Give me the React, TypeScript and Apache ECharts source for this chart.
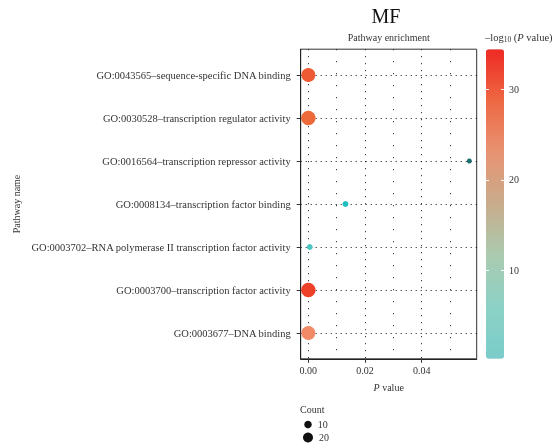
import React, { useEffect, useRef } from 'react';
import * as echarts from 'echarts';

const pathways = [
  'GO:0043565–sequence-specific DNA binding',
  'GO:0030528–transcription regulator activity',
  'GO:0016564–transcription repressor activity',
  'GO:0008134–transcription factor binding',
  'GO:0003702–RNA polymerase II transcription factor activity',
  'GO:0003700–transcription factor activity',
  'GO:0003677–DNA binding',
];
const pValues = [1e-30, 3e-29, 0.0568, 0.0131, 0.0005, 3e-33, 1e-24];
const counts = [42, 45, 3, 5, 5, 45, 42];
const rowTicks = [0, 1, 2, 3, 4, 5, 6];
const xTicks = [0, 0.02, 0.04];
const xMinorTicks = [0.01, 0.03, 0.05];
const colorbarTicks = [10, 20, 30];
const legendCounts = [10, 20];

const FONT = '"Liberation Serif", "Times New Roman", serif';
const size = (c: number) => Math.sqrt(12.5 + 4.375 * c);

export default function App() {
  const ref = useRef<HTMLDivElement>(null);
  useEffect(() => {
    if (!ref.current) return;
    const chart = echarts.init(ref.current, undefined, { renderer: 'svg' });
    const xMin = -0.0027;
    const xMax = 0.0594;
    const option: any = {
      animation: false,
      textStyle: { fontFamily: FONT },
      grid: [
        { left: 300.7, top: 49.2, width: 176, height: 309.6, show: true, borderColor: '#333', borderWidth: 1, backgroundColor: 'transparent' },
        { left: 486, top: 49.2, width: 18, height: 309.6 },
        { left: 303, top: 418, width: 10, height: 26 },
      ],
      xAxis: [
        {
          gridIndex: 0, type: 'value', min: xMin, max: xMax, position: 'bottom',
          axisLine: { show: true, onZero: false, lineStyle: { color: '#222', width: 1 } },
          axisTick: { show: true, length: 4, customValues: xTicks, lineStyle: { color: '#333' } },
          axisLabel: { customValues: xTicks, formatter: (v: number) => v.toFixed(2), color: '#333', fontSize: 10, margin: 7, fontFamily: FONT },
          splitLine: { show: true, lineStyle: { color: '#111', type: [1, 6], width: 1 } },
          name: '{i|P} value', nameLocation: 'middle', nameGap: 24,
          nameTextStyle: { color: '#333', fontSize: 10, fontFamily: FONT, rich: { i: { fontStyle: 'italic', fontSize: 10, fontFamily: FONT, color: '#333' } } },
        },
        {
          gridIndex: 0, type: 'value', min: xMin, max: xMax, position: 'top',
          axisLine: { show: false, onZero: false },
          axisTick: { show: false, customValues: xMinorTicks },
          axisLabel: { show: false, customValues: xMinorTicks },
          splitLine: { show: true, lineStyle: { color: '#111', type: [1, 11], width: 1 } },
        },
        { gridIndex: 1, type: 'value', show: false },
        { gridIndex: 2, type: 'value', show: false, min: 0, max: 1 },
      ],
      yAxis: [
        {
          gridIndex: 0, type: 'value', min: -0.6, max: 6.6, inverse: true,
          axisLine: { show: true, onZero: false, lineStyle: { color: '#222', width: 1 } },
          axisTick: { show: true, length: 4, customValues: rowTicks, lineStyle: { color: '#333' } },
          axisLabel: { customValues: rowTicks, formatter: (v: number) => pathways[Math.round(v)] ?? '', color: '#333', fontSize: 10.5, margin: 10, fontFamily: FONT },
          splitLine: { show: true, lineStyle: { color: '#111', type: [1, 4], width: 1 } },
        },
        {
          gridIndex: 1, type: 'value', min: 0.3, max: 34.4, position: 'left', z: 10,
          axisLine: { show: false, onZero: false },
          axisTick: { show: true, inside: true, length: 3, customValues: colorbarTicks, lineStyle: { color: '#fff' } },
          axisLabel: { show: false, customValues: colorbarTicks },
          splitLine: { show: false },
        },
        {
          gridIndex: 1, type: 'value', min: 0.3, max: 34.4, position: 'right', z: 10,
          axisLine: { show: false, onZero: false },
          axisTick: { show: true, inside: true, length: 3, customValues: colorbarTicks, lineStyle: { color: '#fff' } },
          axisLabel: { show: true, customValues: colorbarTicks, color: '#333', fontSize: 10, margin: 5, fontFamily: FONT },
          splitLine: { show: false },
        },
        { gridIndex: 2, type: 'category', data: legendCounts.map(String), inverse: true, show: false },
      ],
      visualMap: [
        {
          type: 'continuous', seriesIndex: 1, min: 0.3, max: 34.4,
          left: 486, top: 49.2, itemWidth: 18, itemHeight: 309.6, padding: 0,
          calculable: false, show: true, text: null, hoverLink: false,
          inRange: { color: ['#7ACDCB', '#8CD1C6', '#AACBB0', '#C8AC8C', '#E89373', '#EE6843', '#EE2A24'] },
        },
        {
          type: 'piecewise', seriesIndex: 0, dimension: 3, show: false,
          pieces: [
            { lt: 1.5, color: '#1D6E6E' },
            { gte: 1.5, lt: 2.5, color: '#22BDBD' },
            { gte: 2.5, lt: 8, color: '#4CC6C2' },
            { gte: 8, lt: 26, color: '#F28A68' },
            { gte: 26, lt: 29.5, color: '#EF6A3A' },
            { gte: 29.5, lt: 31.5, color: '#EE5A33' },
            { gte: 31.5, color: '#EE4028' },
          ],
        },
      ],
      series: [
        {
          type: 'scatter', xAxisIndex: 0, yAxisIndex: 0,
          data: pathways.map((_, i) => [pValues[i], i, counts[i], -Math.log10(pValues[i])]),
          symbolSize: (d: number[]) => size(d[2]),
          itemStyle: { opacity: 1 },
          z: 5,
        },
        { type: 'scatter', xAxisIndex: 2, yAxisIndex: 1, data: [] },
        {
          type: 'scatter', xAxisIndex: 3, yAxisIndex: 3,
          data: legendCounts.map((c, i) => [0.5, i, c]),
          symbolSize: (d: number[]) => size(d[2]),
          itemStyle: { color: '#111', opacity: 1 },
          label: { show: true, position: 'right', distance: 6, formatter: (p: any) => String(p.value[2]), color: '#333', fontSize: 10, fontFamily: FONT },
        },
      ],
      graphic: [
        { type: 'text', x: 386, y: 16, style: { text: 'MF', fontSize: 20, fontFamily: FONT, fill: '#111', align: 'center', verticalAlign: 'middle' } },
        { type: 'text', x: 388.7, y: 37, style: { text: 'Pathway enrichment', fontSize: 10, fontFamily: FONT, fill: '#333', align: 'center', verticalAlign: 'middle' } },
        {
          type: 'text', x: 485, y: 37,
          style: {
            text: '{a|–log}{s|10}{a| (}{i|P}{a| value)}', fontSize: 10.5, fontFamily: FONT, fill: '#333', align: 'left', verticalAlign: 'middle',
            rich: {
              a: { fontSize: 10.5, fontFamily: FONT, fill: '#333' },
              s: { fontSize: 7.5, fontFamily: FONT, fill: '#333', padding: [5, 0, 0, 0] },
              i: { fontSize: 10.5, fontFamily: FONT, fill: '#333', fontStyle: 'italic' },
            },
          },
        },
        { type: 'text', x: 16, y: 204, rotation: Math.PI / 2, style: { text: 'Pathway name', fontSize: 10, fontFamily: FONT, fill: '#333', align: 'center', verticalAlign: 'middle' } },
        { type: 'text', x: 300, y: 409, style: { text: 'Count', fontSize: 10, fontFamily: FONT, fill: '#333', align: 'left', verticalAlign: 'middle' } },
      ],
    };
    chart.setOption(option);
    return () => chart.dispose();
  }, []);
  return <div ref={ref} style={{ position: 'fixed', left: 0, top: 0, width: 557, height: 447 }} />;
}
